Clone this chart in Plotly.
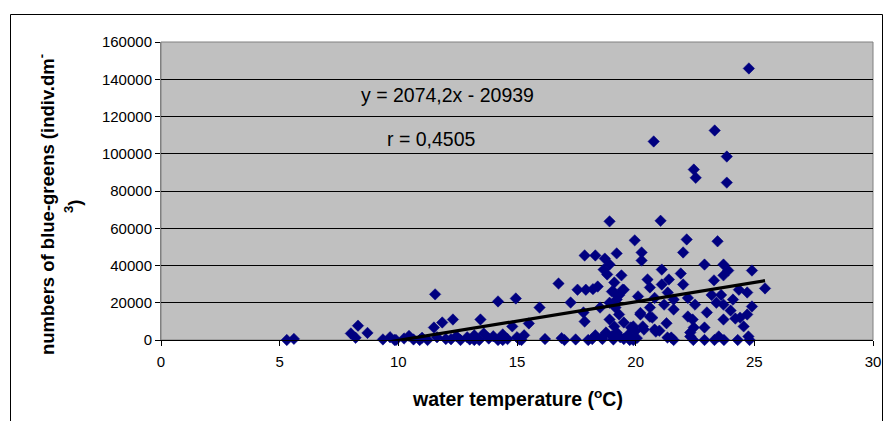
import plotly.graph_objects as go

# water temperature (°C)
temperature = [
    5.3, 5.6, 8.0, 8.3, 8.7, 8.2, 9.35, 9.65, 9.84, 10.24, 10.45, 10.64, 11.0, 11.23,
    11.55, 11.5, 11.63, 11.85, 12.22, 12.3, 12.45, 12.62, 12.9, 13.01, 13.2, 13.41,
    13.46, 13.6, 13.81, 14.0, 14.2, 14.2, 14.4, 14.6, 14.8, 14.95, 15.0, 15.19, 15.3,
    15.5, 15.95, 16.18, 16.75, 16.88, 17.26, 17.47, 17.55, 17.8, 17.85, 17.9, 18.17,
    18.2, 17.85, 18.3, 18.4, 18.5, 18.56, 18.65, 18.7, 18.75, 18.8, 18.9, 18.9, 18.9,
    19.06, 19.1, 19.1, 19.15, 19.2, 19.2, 19.3, 19.4, 19.35, 19.5, 19.5, 19.75, 19.8,
    19.96, 20.05, 20.1, 20.2, 20.25, 20.25, 20.3, 20.5, 20.6, 20.6, 20.7, 20.76, 20.8,
    20.8, 21.05, 21.1, 21.1, 21.2, 21.35, 21.34, 21.4, 21.5, 21.6, 21.6, 21.9, 22.0,
    22.0, 22.15, 22.2, 22.2, 22.3, 22.3, 22.4, 22.45, 22.45, 22.5, 22.53, 22.43, 22.9,
    22.9, 23.0, 23.2, 23.32, 23.3, 23.33, 23.4, 23.45, 23.5, 23.6, 23.7, 23.7, 23.7,
    23.7, 23.72, 23.84, 23.84, 23.9, 24.0, 24.1, 24.2, 24.35, 24.4, 24.55, 24.7, 24.7,
    24.75, 24.77, 24.9, 24.9, 24.8, 25.45,
    18.3, 18.6, 19.0, 19.2, 19.5, 19.7, 20.0, 18.9, 19.3, 19.0, 19.1, 19.45, 19.9,
    20.35, 20.85, 20.2, 20.6, 21.0, 21.3,
    9.9, 10.9, 12.0, 13.2, 14.4, 15.1, 17.0, 18.0, 19.9, 21.6, 22.9, 24.3,
]

# numbers of blue-greens (indiv. dm-3)
blue_greens = [
    0, 600, 3500, 7700, 3800, 1200, 300, 1500, 0, 800, 2200, 300, 1200, 0,
    24500, 6700, 1500, 9400, 400, 11000, 2000, 0, 1500, 300, 2500, 0,
    11000, 3500, 800, 2000, 20700, 0, 3000, 500, 7300, 22300, 1500, 0, 2500,
    8900, 17400, 500, 30300, 1000, 20100, 300, 27000, 14800, 9900, 27000, 500,
    27300, 45400, 45400, 28700, 17400, 1200, 37800, 43700, 4000, 35200, 63700, 40500, 11000,
    300, 30900, 7300, 17400, 46500, 21700, 13700, 34700, 1500, 27000, 9400, 0, 6700,
    53500, 1000, 23400, 13700, 47000, 42700, 7300, 32500, 28200, 17400, 12000, 106600, 22600,
    5600, 64000, 37800, 29800, 19000, 25500, 1300, 32500, 1300, 21700, 16400, 35700, 29800,
    47000, 54000, 22600, 12600, 1900, 4000, 11000, 6700, 91500, 19000, 87100, 0, 40500,
    6700, 14800, 24200, 0, 32000, 112500, 20000, 53000, 1900, 24200, 40500, 34700, 19000,
    11000, 0, 98500, 84500, 37300, 15800, 21700, 11500, 27000, 12000, 7300, 25500, 13700,
    1900, 145800, 37300, 18000, 0, 27700,
    2500, 500, 2000, 4000, 500, 3000, 5000, 20000, 24000, 26000, 25500, 27000, 7300,
    5600, 4500, 14500, 12500, 5000, 9000,
    0, 0, 500, 0, 0, 300, 0, 0, 0, 0, 0, 0,
]

# linear trend (as printed on the chart)
slope = 2074.2
intercept = -20939
equation_text = "y = 2074,2x - 20939"
r_text = "r = 0,4505"

x_ticks = [0, 5, 10, 15, 20, 25, 30]
y_ticks = [0, 20000, 40000, 60000, 80000, 100000, 120000, 140000, 160000]

# plot-area geometry in pixels (for placing annotations)
W, H = 884, 421
L, R, T, B = 161, 873, 42, 340


def px(xp):
    return (xp - L) / (R - L)


def py(yp):
    return (B - yp) / (B - T)


x_fit = [min(temperature), max(temperature)]
y_fit = [slope * v + intercept for v in x_fit]

font_family = "Liberation Sans, Arial, sans-serif"

fig = go.Figure()
fig.add_trace(go.Scatter(
    x=temperature, y=blue_greens, mode="markers",
    marker=dict(symbol="diamond", size=8.8, color="#000080",
                line=dict(color="#000080", width=0.5)),
    cliponaxis=False, showlegend=False, hoverinfo="x+y",
))
fig.add_trace(go.Scatter(
    x=x_fit, y=y_fit, mode="lines",
    line=dict(color="black", width=3.2),
    showlegend=False, hoverinfo="skip",
))

fig.update_layout(
    width=W, height=H,
    margin=dict(l=L, r=W - R, t=T, b=H - B, autoexpand=False),
    paper_bgcolor="white",
    plot_bgcolor="#C0C0C0",
    font=dict(family=font_family, size=15, color="black"),
    xaxis=dict(
        range=[0, 30], tickvals=x_ticks, ticks="outside", ticklen=5,
        tickcolor="black", showgrid=False, zeroline=False,
        showline=True, linecolor="black", linewidth=1, automargin=False,
        tickfont=dict(size=15), ticklabelstandoff=3, fixedrange=True,
    ),
    yaxis=dict(
        range=[0, 160000], tickvals=y_ticks, tickformat="d",
        ticks="outside", ticklen=5, tickcolor="black",
        showgrid=True, gridcolor="black", gridwidth=1, zeroline=False,
        showline=True, linecolor="#808080", linewidth=1, automargin=False,
        tickfont=dict(size=15), fixedrange=True,
    ),
    shapes=[
        dict(type="rect", xref="paper", yref="paper", x0=0, x1=1, y0=0, y1=1,
             line=dict(color="#808080", width=1), layer="below"),
        dict(type="rect", xref="paper", yref="paper",
             x0=px(10.5), x1=px(882.5), y0=py(430), y1=py(14.5),
             line=dict(color="black", width=1), layer="above"),
    ],
    annotations=[
        dict(text=equation_text, xref="paper", yref="paper",
             x=px(359), y=py(95), xanchor="left", yanchor="middle",
             showarrow=False, font=dict(size=19.5)),
        dict(text=r_text, xref="paper", yref="paper",
             x=px(385), y=py(139), xanchor="left", yanchor="middle",
             showarrow=False, font=dict(size=19.5)),
        dict(text="<b>water temperature (<sup>o</sup>C)</b>", xref="paper", yref="paper",
             x=px(517), y=py(398), xanchor="center", yanchor="middle",
             showarrow=False, font=dict(size=19.5)),
        dict(text="<b>numbers of blue-greens (indiv.dm<sup>-</sup></b>",
             xref="paper", yref="paper", textangle=-90,
             x=px(46), y=py(205), xanchor="center", yanchor="middle",
             showarrow=False, font=dict(size=18.5)),
        dict(text="<b><sup>3</sup>)</b>",
             xref="paper", yref="paper", textangle=-90,
             x=px(73), y=py(207), xanchor="center", yanchor="middle",
             showarrow=False, font=dict(size=18.5)),
    ],
)

fig.write_html("out.html", config={"displayModeBar": False},
               post_script="document.body.style.margin='0px';")
